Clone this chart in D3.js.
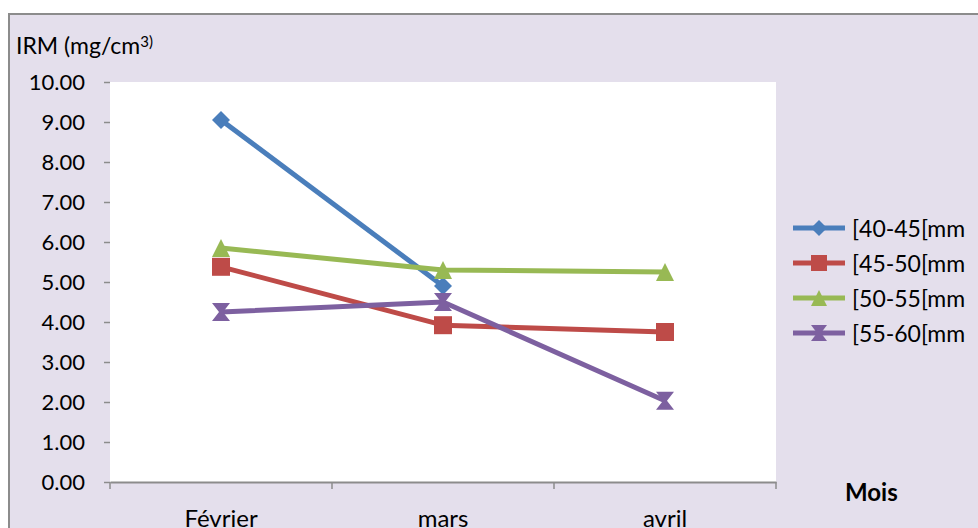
<!DOCTYPE html>
<html>
<head>
<meta charset="utf-8">
<script src="https://cdn.jsdelivr.net/npm/d3@7"></script>
<style>
  body { margin: 0; background: #fff; }
  svg { display: block; font-family: Lato, "Open Sans", sans-serif; }
</style>
</head>
<body>
<svg id="chart"></svg>
<script>
var months = ["Février", "mars", "avril"];
var yTicks = [0, 1, 2, 3, 4, 5, 6, 7, 8, 9, 10];
var s4045 = [9.05, 4.9, null];
var s4550 = [5.38, 3.92, 3.75];
var s5055 = [5.85, 5.3, 5.25];
var s5560 = [4.25, 4.5, 2.03];

var series = [
  { name: "[40-45[mm", values: s4045, color: "#4A7EBB", marker: "diamond" },
  { name: "[45-50[mm", values: s4550, color: "#BE4B48", marker: "square" },
  { name: "[50-55[mm", values: s5055, color: "#98B954", marker: "triangle" },
  { name: "[55-60[mm", values: s5560, color: "#7D60A0", marker: "hourglass" }
];

var width = 978, height = 528;
var plot = { left: 110, right: 776, top: 82, bottom: 482 };

var svg = d3.select("#chart").attr("width", width).attr("height", height);

// chart area background
svg.append("rect")
   .attr("x", 9).attr("y", 14)
   .attr("width", 980).attr("height", 530)
   .attr("fill", "#E4DFEC")
   .attr("stroke", "#8c8c8c")
   .attr("stroke-width", 2);

svg.append("rect")
   .attr("x", plot.left).attr("y", plot.top)
   .attr("width", plot.right - plot.left).attr("height", plot.bottom - plot.top)
   .attr("fill", "#fff");

var x = d3.scaleBand().domain(months).range([plot.left, plot.right]);
var y = d3.scaleLinear().domain([0, 10]).range([plot.bottom, plot.top]);

// y axis
var yAxis = svg.append("g")
   .attr("transform", "translate(" + plot.left + ",0)")
   .call(d3.axisLeft(y).tickValues(yTicks).tickSize(6).tickPadding(19)
         .tickFormat(function (d) { return d3.format(".2f")(d); }));
yAxis.select(".domain").remove();
yAxis.selectAll("line").attr("stroke", "#8c8c8c").attr("stroke-width", 1.5);
yAxis.selectAll("text").attr("font-size", 22).attr("fill", "#000")
     .attr("font-family", "Lato, sans-serif");

// x axis
var xAxis = svg.append("g")
   .attr("transform", "translate(0," + plot.bottom + ")")
   .call(d3.axisBottom(x).tickSize(0).tickPadding(28));
xAxis.select(".domain").attr("stroke", "#8c8c8c").attr("stroke-width", 2);
xAxis.selectAll("text").attr("font-size", 24).attr("fill", "#000")
     .attr("font-family", "Lato, sans-serif");
var edges = months.map(function (m) { return x(m); }).concat([plot.right]);
xAxis.selectAll(".edge").data(edges).enter().append("line")
     .attr("x1", function (d) { return d; }).attr("x2", function (d) { return d; })
     .attr("y1", 0).attr("y2", 7)
     .attr("stroke", "#8c8c8c").attr("stroke-width", 1.5);

// axis titles
var yt = svg.append("text").attr("x", 16).attr("y", 54)
   .attr("font-size", 23).attr("fill", "#000");
yt.append("tspan").text("IRM (mg/cm");
yt.append("tspan").attr("font-size", 15).attr("dy", -7).text("3)");

svg.append("text").attr("x", 845).attr("y", 501)
   .attr("font-size", 24).attr("font-weight", "bold").attr("fill", "#000")
   .text("Mois");

function markerPath(type, s) {
  var h = s / 2;
  if (type === "diamond") return "M0," + (-h) + "L" + h + ",0L0," + h + "L" + (-h) + ",0Z";
  if (type === "square") return "M" + (-h) + "," + (-h) + "H" + h + "V" + h + "H" + (-h) + "Z";
  if (type === "triangle") return "M0," + (-h) + "L" + h + "," + h + "H" + (-h) + "Z";
  return "M" + (-h) + "," + (-h) + "H" + h + "L2,0L" + h + "," + h + "H" + (-h) + "L-2,0Z";
}

var cx = function (i) { return x(months[i]) + x.bandwidth() / 2; };

var line = d3.line()
   .defined(function (d) { return d != null; })
   .x(function (d, i) { return cx(i); })
   .y(function (d) { return y(d); });

series.forEach(function (s) {
  svg.append("path")
     .datum(s.values)
     .attr("d", line)
     .attr("fill", "none")
     .attr("stroke", s.color)
     .attr("stroke-width", 5)
     .attr("stroke-linejoin", "round");
});

series.forEach(function (s) {
  svg.selectAll(null)
     .data(s.values.map(function (v, i) { return { v: v, i: i }; })
                   .filter(function (d) { return d.v != null; }))
     .enter().append("path")
     .attr("d", markerPath(s.marker, 18))
     .attr("transform", function (d) { return "translate(" + cx(d.i) + "," + y(d.v) + ")"; })
     .attr("fill", s.color);
});

// legend
var legend = svg.append("g").attr("transform", "translate(793,228)");
series.forEach(function (s, i) {
  var g = legend.append("g").attr("transform", "translate(0," + (i * 35) + ")");
  g.append("line").attr("x1", 0).attr("x2", 52).attr("y1", 0).attr("y2", 0)
   .attr("stroke", s.color).attr("stroke-width", 5);
  g.append("path").attr("d", markerPath(s.marker, 16))
   .attr("transform", "translate(26,0)").attr("fill", s.color);
  g.append("text").attr("x", 59).attr("y", 9)
   .attr("font-size", 23).attr("fill", "#000").text(s.name);
});
</script>
</body>
</html>
